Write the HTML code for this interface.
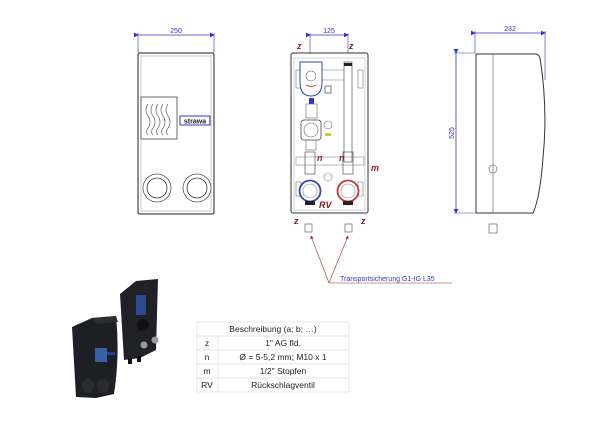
<!DOCTYPE html>
<html><head><meta charset="utf-8"><style>
html,body{margin:0;padding:0;background:#fff}
svg{display:block}
text{font-family:"Liberation Sans",sans-serif}
</style></head><body>
<svg width="600" height="425" viewBox="0 0 600 425" xmlns="http://www.w3.org/2000/svg">
<defs>
<marker id="ab" markerWidth="6" markerHeight="6" refX="5" refY="3" orient="auto"><path d="M0,0 L6,3 L0,6 z" fill="#3333cc"/></marker>
<marker id="ar" markerWidth="6" markerHeight="6" refX="5" refY="3" orient="auto"><path d="M0,0 L6,3 L0,6 z" fill="#a03030"/></marker>
</defs>
<!-- LEFT FRONT VIEW -->
<line x1="138" y1="35" x2="214" y2="35" stroke="#3333cc" stroke-width="0.8" marker-start="url(#ab)" marker-end="url(#ab)"/>
<line x1="138" y1="33" x2="138" y2="53" stroke="#3333cc" stroke-width="0.6"/>
<line x1="214" y1="33" x2="214" y2="53" stroke="#3333cc" stroke-width="0.6"/>
<text x="176" y="33" font-size="7" fill="#3333cc" text-anchor="middle">250</text>
<rect x="138" y="53" width="76" height="161" rx="2" fill="#fff" stroke="#222" stroke-width="1"/>
<rect x="141" y="56" width="70" height="155" fill="none" stroke="#999" stroke-width="0.5"/>
<rect x="141" y="97" width="36" height="42" fill="#fff" stroke="#444" stroke-width="0.8"/>
<g fill="none" stroke="#666" stroke-width="0.7">
<path d="M148,104 q-4,6 0,12 q4,6 0,12 q-3,4 0,7"/>
<path d="M153,104 q-4,6 0,12 q4,6 0,12 q-3,4 0,7"/>
<path d="M158,104 q-4,6 0,12 q4,6 0,12 q-3,4 0,7"/>
<path d="M163,104 q-4,6 0,12 q4,6 0,12 q-3,4 0,7"/>
<path d="M168,104 q-4,6 0,12 q4,6 0,12 q-3,4 0,7"/>
</g>
<rect x="180" y="116" width="30" height="9" fill="#fff" stroke="#3333cc" stroke-width="1"/>
<text x="195" y="123.5" font-size="7" font-weight="bold" fill="#222" text-anchor="middle">strawa</text>
<circle cx="157" cy="188" r="14" fill="none" stroke="#555" stroke-width="0.8"/>
<circle cx="157" cy="188" r="10" fill="none" stroke="#333" stroke-width="0.8"/>
<circle cx="197" cy="188" r="14" fill="none" stroke="#555" stroke-width="0.8"/>
<circle cx="197" cy="188" r="10" fill="none" stroke="#333" stroke-width="0.8"/>

<!-- MIDDLE VIEW -->
<line x1="310" y1="35" x2="348" y2="35" stroke="#3333cc" stroke-width="0.8" marker-start="url(#ab)" marker-end="url(#ab)"/>
<line x1="310" y1="33" x2="310" y2="55" stroke="#3333cc" stroke-width="0.6"/>
<line x1="348" y1="33" x2="348" y2="55" stroke="#3333cc" stroke-width="0.6"/>
<text x="329" y="33" font-size="7" fill="#3333cc" text-anchor="middle">125</text>
<rect x="291" y="53" width="77" height="160" rx="2" fill="#fff" stroke="#333" stroke-width="1"/>
<rect x="294" y="58" width="71" height="152" fill="none" stroke="#aaa" stroke-width="0.5"/>
<rect x="296" y="70" width="5" height="18" fill="none" stroke="#777" stroke-width="0.6"/>
<rect x="358" y="70" width="5" height="18" fill="none" stroke="#777" stroke-width="0.6"/>
<rect x="296" y="182" width="5" height="14" fill="none" stroke="#777" stroke-width="0.6"/>
<rect x="358" y="182" width="5" height="14" fill="none" stroke="#777" stroke-width="0.6"/>
<path d="M300,62 h22 v20 q0,14 -11,14 q-11,0 -11,-14 z" fill="#fff" stroke="#3344bb" stroke-width="1"/>
<circle cx="311" cy="76" r="5" fill="none" stroke="#666" stroke-width="0.6"/>
<path d="M306,85 q5,3 10,0" stroke="#c33" fill="none" stroke-width="0.8"/>
<rect x="309" y="98" width="5" height="6" fill="#33c"/>
<rect x="325" y="86" width="6" height="7" fill="none" stroke="#444" stroke-width="0.7"/>
<rect x="344" y="62" width="8" height="100" fill="none" stroke="#555" stroke-width="0.7"/>
<rect x="344" y="63" width="8" height="3" fill="#222"/>
<line x1="322" y1="70" x2="344" y2="70" stroke="#777" stroke-width="0.6"/>
<line x1="322" y1="80" x2="344" y2="80" stroke="#777" stroke-width="0.6"/>
<rect x="306" y="104" width="11" height="14" fill="none" stroke="#666" stroke-width="0.6"/>
<rect x="301" y="120" width="20" height="20" rx="3" fill="#fff" stroke="#444" stroke-width="0.8"/>
<circle cx="311" cy="130" r="7" fill="none" stroke="#666" stroke-width="0.6"/>
<circle cx="328" cy="125" r="4" fill="none" stroke="#666" stroke-width="0.6"/>
<rect x="325" y="133" width="6" height="3" fill="#cc3"/>
<rect x="306" y="140" width="10" height="10" fill="none" stroke="#666" stroke-width="0.6"/>
<rect x="296" y="157" width="68" height="8" fill="none" stroke="#888" stroke-width="0.6"/>
<rect x="305" y="152" width="10" height="22" fill="none" stroke="#555" stroke-width="0.7"/>
<rect x="343" y="152" width="10" height="22" fill="none" stroke="#555" stroke-width="0.7"/>
<circle cx="328" cy="177" r="4" fill="none" stroke="#777" stroke-width="0.6"/>
<circle cx="310" cy="191" r="10.5" fill="#fff" stroke="#3344bb" stroke-width="1.8"/>
<circle cx="310" cy="191" r="7" fill="none" stroke="#888" stroke-width="0.6"/>
<circle cx="348" cy="191" r="10.5" fill="#fff" stroke="#cc3333" stroke-width="1.8"/>
<circle cx="348" cy="191" r="7" fill="none" stroke="#888" stroke-width="0.6"/>
<rect x="305" y="201" width="10" height="4" fill="#222"/>
<rect x="343" y="201" width="10" height="4" fill="#222"/>
<g fill="#8b1a1a" font-size="9" font-weight="bold" font-style="italic">
<text x="297" y="49">z</text><text x="349" y="49">z</text>
<text x="294" y="224">z</text><text x="361" y="224">z</text>
<text x="317" y="161">n</text><text x="339" y="161">n</text>
<text x="371" y="171">m</text><text x="319" y="208">RV</text>
</g>
<g fill="#fff" stroke="#666" stroke-width="0.7">
<rect x="305" y="224" width="7" height="8"/><rect x="345" y="224" width="7" height="8"/>
</g>
<line x1="329" y1="283" x2="311" y2="236" stroke="#a03030" stroke-width="0.6" marker-end="url(#ar)"/>
<line x1="329" y1="283" x2="348" y2="236" stroke="#a03030" stroke-width="0.6" marker-end="url(#ar)"/>
<line x1="329" y1="283" x2="452" y2="283" stroke="#a03030" stroke-width="0.6"/>
<text x="340" y="281" font-size="7" fill="#3333cc">Transportsicherung G1-IG L35</text>

<!-- RIGHT SIDE VIEW -->
<line x1="475" y1="33" x2="545" y2="33" stroke="#3333cc" stroke-width="0.8" marker-start="url(#ab)" marker-end="url(#ab)"/>
<line x1="475" y1="31" x2="475" y2="53" stroke="#3333cc" stroke-width="0.6"/>
<line x1="545" y1="31" x2="545" y2="80" stroke="#3333cc" stroke-width="0.6"/>
<text x="510" y="31" font-size="7" fill="#3333cc" text-anchor="middle">232</text>
<line x1="456" y1="53" x2="456" y2="213" stroke="#3333cc" stroke-width="0.8" marker-start="url(#ab)" marker-end="url(#ab)"/>
<line x1="454" y1="53" x2="475" y2="53" stroke="#3333cc" stroke-width="0.6"/>
<line x1="454" y1="213" x2="475" y2="213" stroke="#3333cc" stroke-width="0.6"/>
<text x="0" y="0" font-size="7" fill="#3333cc" text-anchor="middle" transform="translate(454,133) rotate(-90)">525</text>
<path d="M476,54 h59 q4,0 5,4 q8,50 3,100 q-3,40 -10,55 h-57 z" fill="#fff" stroke="#333" stroke-width="1"/>
<line x1="493" y1="54" x2="493" y2="213" stroke="#555" stroke-width="0.6"/>
<circle cx="493" cy="169" r="4" fill="none" stroke="#555" stroke-width="0.6"/>
<rect x="489" y="224" width="8" height="9" fill="#fff" stroke="#666" stroke-width="0.7"/>

<!-- 3D ISO -->
<path d="M72,327 L92,318 L116,316 Q120,355 114,394 L96,398 L76,397 Z" fill="#1d1f24"/>
<path d="M92,318 L116,316 L118,322 L96,324 Z" fill="#2c2e34"/>
<rect x="95" y="348" width="12" height="14" fill="#3a5ea8"/>
<rect x="107" y="352" width="8" height="3" fill="#2040a0"/>
<ellipse cx="88" cy="386" rx="6" ry="7" fill="#2a2c30"/><ellipse cx="103" cy="386" rx="6" ry="7" fill="#2a2c30"/>
<path d="M120,294 L136,281 L158,279 L156,350 L140,358 L124,360 Z" fill="#1f2126"/>
<rect x="136" y="295" width="10" height="20" fill="#2c4a90"/>
<circle cx="143" cy="325" r="6" fill="#111"/>
<circle cx="144" cy="345" r="3.5" fill="#999"/><circle cx="155" cy="340" r="3.5" fill="#999"/>
<rect x="128" y="358" width="4" height="6" fill="#111"/><rect x="137" y="356" width="4" height="6" fill="#111"/>

<!-- TABLE -->
<g font-size="8.5" fill="#222" text-anchor="middle">
<rect x="197" y="322" width="152" height="70" fill="#fff" stroke="#ddd" stroke-width="0.7"/>
<line x1="197" y1="336" x2="349" y2="336" stroke="#ddd" stroke-width="0.7"/>
<line x1="197" y1="350" x2="349" y2="350" stroke="#ddd" stroke-width="0.7"/>
<line x1="197" y1="364" x2="349" y2="364" stroke="#ddd" stroke-width="0.7"/>
<line x1="197" y1="378" x2="349" y2="378" stroke="#ddd" stroke-width="0.7"/>
<line x1="218" y1="336" x2="218" y2="392" stroke="#ddd" stroke-width="0.7"/>
<text x="273" y="332">Beschreibung (a; b; …)</text>
<text x="207" y="346">z</text><text x="283" y="346">1" AG fld.</text>
<text x="207" y="360">n</text><text x="283" y="360">Ø = 5-5,2 mm; M10 x 1</text>
<text x="207" y="374">m</text><text x="283" y="374">1/2" Stopfen</text>
<text x="207" y="388">RV</text><text x="283" y="388">Rückschlagventil</text>
</g>
</svg>
</body></html>
